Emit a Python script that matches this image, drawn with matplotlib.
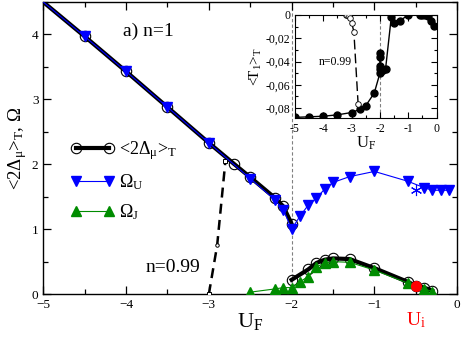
import matplotlib
matplotlib.use("Agg")
import matplotlib.pyplot as plt
from matplotlib.ticker import MultipleLocator, FuncFormatter

plt.rcParams['font.family'] = ['Liberation Serif', 'DejaVu Serif']
plt.rcParams['mathtext.fontset'] = 'custom'
plt.rcParams['mathtext.rm'] = 'Liberation Serif'
plt.rcParams['mathtext.it'] = 'Liberation Serif:italic'
plt.rcParams['mathtext.default'] = 'regular'

# ---------------- data (main panel) ----------------
delta_hi_x = [-5.0, -4.5, -4.0, -3.5, -3.0, -2.7, -2.5, -2.2, -2.1, -2.0]
delta_hi_y = [4.5, 3.97, 3.43, 2.88, 2.33, 2.01, 1.80, 1.48, 1.35, 1.08]
delta_lo_x = [-2.0, -1.8, -1.7, -1.6, -1.5, -1.3, -1.0, -0.6, -0.5, -0.4, -0.3]
delta_lo_y = [0.22, 0.38, 0.48, 0.53, 0.55, 0.54, 0.40, 0.19, 0.13, 0.10, 0.05]

omega_u_x = [-5.0, -4.5, -4.0, -3.5, -3.0, -2.5, -2.2, -2.1, -2.0, -1.9, -1.8, -1.7,
             -1.6, -1.5, -1.3, -1.0, -0.6, -0.4, -0.3, -0.2, -0.1]
omega_u_y = [4.5, 3.97, 3.43, 2.88, 2.33, 1.78, 1.45, 1.30, 1.00, 1.20, 1.37, 1.48,
             1.62, 1.72, 1.81, 1.89, 1.74, 1.64, 1.60, 1.60, 1.60]
omega_u_star_x = [-0.5]
omega_u_star_y = [1.60]

omega_j_x = [-2.5, -2.2, -2.1, -2.0, -1.9, -1.8, -1.7, -1.6, -1.5, -1.3, -1.0, -0.6, -0.4, -0.3]
omega_j_y = [0.03, 0.08, 0.10, 0.10, 0.19, 0.27, 0.42, 0.48, 0.50, 0.49, 0.37, 0.17, 0.08, 0.04]

n099_x = [-3.0, -2.9, -2.8]
n099_y = [0.0, 0.75, 2.05]

ui_x = [-0.5]
ui_y = [0.12]

# ---------------- data (inset) ----------------
t1_x = [-5.0, -4.5, -4.0, -3.5, -3.0, -2.7, -2.5, -2.2, -2.0, -2.0, -2.0, -2.0, -2.0,
        -1.95, -1.88, -1.8, -1.6, -1.5, -1.3, -1.0, -0.6, -0.5, -0.4, -0.3, -0.2, -0.1]
t1_y = [-0.0880, -0.0875, -0.0870, -0.0858, -0.0838, -0.0810, -0.0780, -0.0670, -0.0500,
        -0.0466, -0.0440, -0.0360, -0.0330, -0.0480, -0.0470, -0.0460, -0.0020, -0.0070,
        -0.0050, 0.0, 0.0, 0.0, 0.0, -0.0010, -0.0055, -0.0092]
t1n_x = [-3.2, -3.15, -3.1, -3.05, -3.0, -2.92, -2.77]
t1n_y = [0.0, 0.0, -0.001, -0.003, -0.0065, -0.0143, -0.0766]

green = '#008c00'

fig = plt.figure(figsize=(4.63, 3.40), dpi=100)
ax = fig.add_axes([0.0935, 0.135, 0.894, 0.859])

ax.axvline(-2.0, color='grey', lw=0.8, ls=(0, (3, 2)), zorder=1)

l_d, = ax.plot(delta_hi_x, delta_hi_y, color='black', lw=3.0, marker='o', ms=7.5,
               mfc='none', mec='black', mew=0.8, markevery=list(range(1, len(delta_hi_x))), zorder=3)
ax.plot(delta_lo_x, delta_lo_y, color='black', lw=3.0, marker='o', ms=7.5,
        mfc='none', mec='black', mew=0.8, zorder=3)

ax.plot(n099_x, n099_y, color='black', lw=1.8, ls=(0, (4, 2.5)), zorder=3)
ax.plot([n099_x[0], n099_x[2]], [n099_y[0], n099_y[2]], ls='none', marker='s', ms=3,
        mfc='white', mec='black', mew=0.7, zorder=4)
ax.plot([n099_x[1]], [n099_y[1]], ls='none', marker='o', ms=2.5,
        mfc='white', mec='black', mew=0.7, zorder=4)

l_u, = ax.plot(omega_u_x, omega_u_y, color='blue', lw=0.8, marker='v', ms=7.5,
               mfc='blue', mec='blue', markevery=list(range(1, len(omega_u_x))), zorder=4)
ax.plot(omega_u_star_x, omega_u_star_y, ls='none', marker=(6, 2, 0), ms=8,
        mec='blue', mew=0.8, zorder=4)

l_j, = ax.plot(omega_j_x, omega_j_y, color=green, lw=0.8, marker='^', ms=7.5,
               mfc=green, mec=green, zorder=5)

ax.plot(ui_x, ui_y, ls='none', marker='o', ms=7, mfc='red', mec='red', zorder=6)

ax.set_xlim(-5, 0)
ax.set_ylim(0, 4.5)
ax.xaxis.set_major_locator(MultipleLocator(1))
ax.xaxis.set_minor_locator(MultipleLocator(0.5))
ax.yaxis.set_major_locator(MultipleLocator(1))
ax.yaxis.set_minor_locator(MultipleLocator(0.5))
ax.tick_params(which='both', direction='in', top=True, right=True, labelsize=9.5, width=0.9)
ax.tick_params(which='major', length=6)
ax.tick_params(which='minor', length=3.5)
for s in ax.spines.values():
    s.set_linewidth(1.0)

ax.set_xlabel('U$_F$', fontsize=16, labelpad=0)
ax.set_ylabel('<2Δ$_\\mu$>$_T$, Ω', fontsize=13.5, labelpad=2)

ax.text(-4.04, 3.98, 'a) n=1', fontsize=14)
ax.text(-3.76, 0.34, 'n=0.99', fontsize=14)
ax.text(-0.5, -0.25, 'U$_i$', color='red', fontsize=14, ha='center', va='top')

leg = ax.legend([l_d, l_u, l_j], ['<2Δ$_\\mu$>$_T$', 'Ω$_U$', 'Ω$_J$'],
                loc='upper left', bbox_to_anchor=(0.027, 0.585), frameon=False,
                numpoints=2, handlelength=2.4, fontsize=13, labelspacing=0.55,
                handletextpad=0.3)

# ---------------- inset ----------------
ins = fig.add_axes([0.637, 0.653, 0.306, 0.303])
ins.axvline(-2.0, color='grey', lw=0.8, ls=(0, (3, 2)), zorder=1)
ins.plot(t1_x, t1_y, color='black', lw=1.0, marker='o', ms=5, mfc='black', mec='black', zorder=3)
ins.plot(t1n_x, t1n_y, color='black', lw=1.0, ls=(0, (7, 3)), marker='o', ms=4,
         mfc='white', mec='black', mew=0.6, zorder=3)
ins.text(-4.15, -0.040, 'n=0.99', fontsize=8.5, va='center')
ins.set_xlim(-5, 0)
ins.set_ylim(-0.0885, 0)
ins.xaxis.set_major_locator(MultipleLocator(1))
ins.xaxis.set_minor_locator(MultipleLocator(0.5))
ins.yaxis.set_major_locator(MultipleLocator(0.02))
ins.yaxis.set_minor_locator(MultipleLocator(0.01))
ins.yaxis.set_major_formatter(FuncFormatter(
    lambda v, p: '0' if abs(v) < 1e-9 else ('%.2f' % v).replace('.', ',')))
ins.xaxis.set_major_formatter(FuncFormatter(lambda v, p: '%d' % round(v)))
ins.tick_params(which='both', direction='in', top=True, right=True, labelsize=8.5, width=0.8)
ins.tick_params(which='major', length=4.5)
ins.tick_params(which='minor', length=2.5)
ins.set_xlabel('U$_F$', fontsize=12, labelpad=0)
ins.set_ylabel('<T$_1$>$_T$', fontsize=11, labelpad=1)

fig.savefig('out.png', dpi=100)
